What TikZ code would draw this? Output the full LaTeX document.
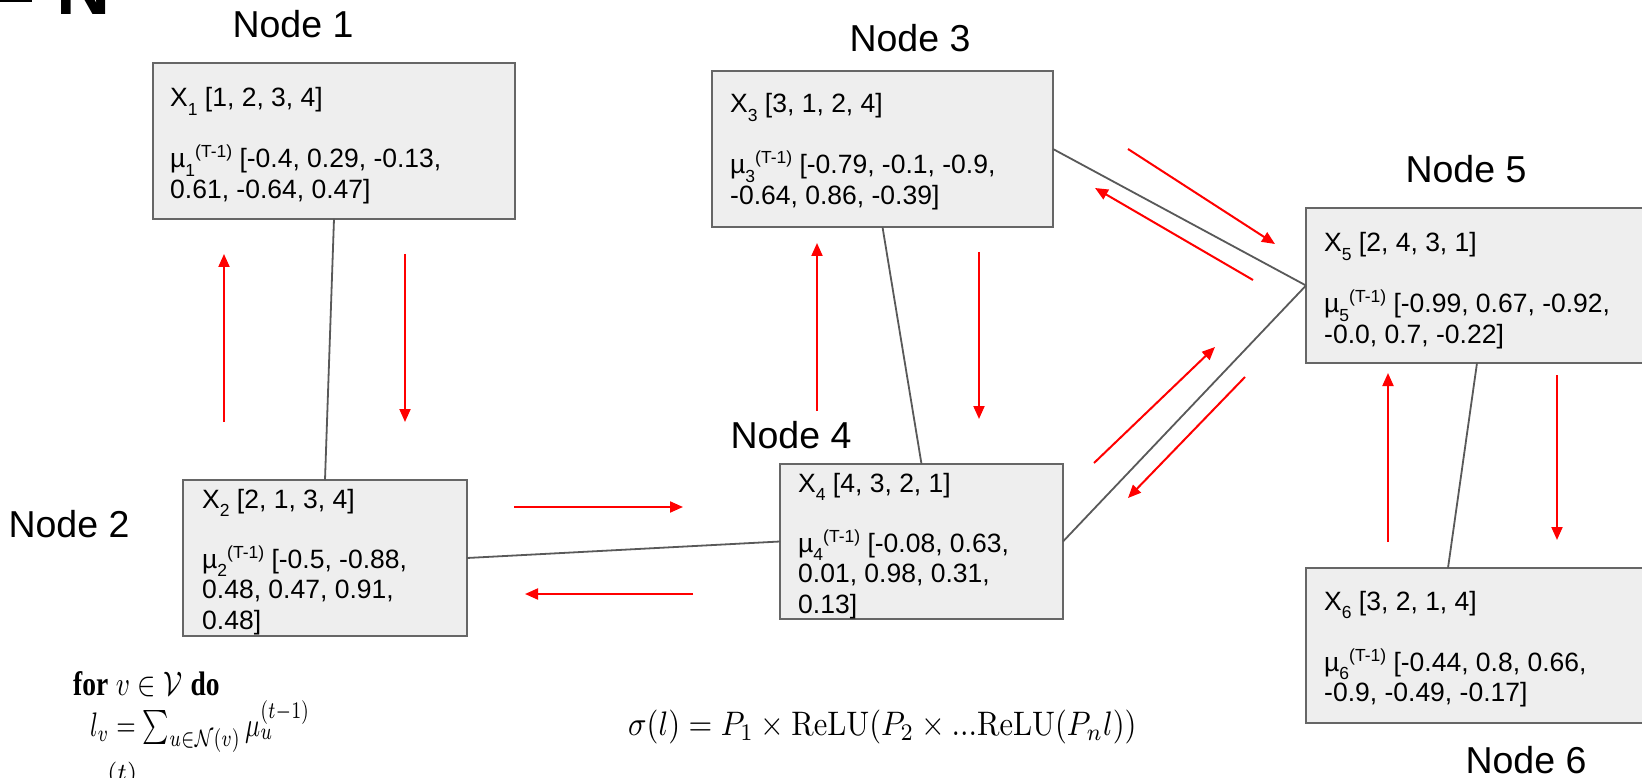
\documentclass[tikz,border=0pt]{standalone}
\usepackage{amsmath}
\usepackage[no-math]{fontspec}
\setmainfont{Liberation Sans}
\newfontfamily\formulafont{Liberation Serif}
\usetikzlibrary{arrows.meta}
\definecolor{boxfill}{HTML}{EEEEEE}
\definecolor{boxedge}{HTML}{666666}
\definecolor{edgegray}{HTML}{595959}
\definecolor{msgred}{HTML}{FF0000}
% small lowered / raised indices used in the feature texts
\newcommand\lo[1]{\smash{\raisebox{-8.5pt}{\fontsize{17.5}{17.5}\selectfont #1}}}
\newcommand\hi[1]{\smash{\raisebox{10pt}{\fontsize{17.5}{17.5}\selectfont #1}}}
\newcommand\vals[1]{\begin{tabular}[t]{@{}l@{}}#1\end{tabular}}
% formulas are set at 10pt and enlarged (width factor, height factor)
\newcommand\eqn[3]{\scalebox{#1}[#2]{\fontsize{10}{12}\selectfont #3}}

\begin{document}
\begin{tikzpicture}[x=1pt,y=-1pt,
  nbox/.style={draw=boxedge, fill=boxfill, line width=2.2pt, anchor=north west,
               inner sep=0pt, outer sep=0pt},
  link/.style={draw=edgegray, line width=1.8pt},
  msg/.style={draw=msgred, line width=2pt, -{Triangle[length=13pt,width=11pt]}},
  nodelabel/.style={font=\fontsize{37.5}{40}\selectfont, anchor=base, inner sep=0pt},
  valtext/.style={font=\fontsize{26.5}{30.5}\selectfont, anchor=base west, inner sep=0pt},
  formula/.style={anchor=base west, inner sep=0pt},
]
\useasboundingbox (0,0) rectangle (1642,778);
\fill[white] (0,0) rectangle (1642,778);

% heading remnant at the top-left corner
\fill[black] (0,0) rectangle (32,2.5);
\node[font=\fontsize{75}{75}\selectfont\bfseries, anchor=base west, inner sep=0pt] (title) at (56.5,15) {N};

% graph nodes
\node[nbox, minimum width=362, minimum height=156] (n1) at (153,63) {};
\node[nbox, minimum width=284, minimum height=156] (n2) at (183,480) {};
\node[nbox, minimum width=341, minimum height=156] (n3) at (712,71) {};
\node[nbox, minimum width=283, minimum height=155] (n4) at (780,464) {};
\node[nbox, minimum width=342, minimum height=155] (n5) at (1306,208) {};
\node[nbox, minimum width=360, minimum height=155] (n6) at (1306,568) {};

% node titles
\node[nodelabel] (l1) at (293,38) {Node 1};
\node[nodelabel] (l2) at (69,537) {Node 2};
\node[nodelabel] (l3) at (910,52) {Node 3};
\node[nodelabel] (l4) at (791,448) {Node 4};
\node[nodelabel] (l5) at (1466,183) {Node 5};
\node[nodelabel] (l6) at (1526,773) {Node 6};

% features and embeddings
\node[valtext] (t1) at (170,107) {\vals{X\lo{1} [1, 2, 3, 4]\\[30.5pt]
  µ\lo{1}\hi{(T-1)} [-0.4, 0.29, -0.13,\\0.61, -0.64, 0.47]}};
\node[valtext] (t2) at (202,508) {\vals{X\lo{2} [2, 1, 3, 4]\\[29.5pt]
  µ\lo{2}\hi{(T-1)} [-0.5, -0.88,\\0.48, 0.47, 0.91,\\0.48]}};
\node[valtext] (t3) at (730,113) {\vals{X\lo{3} [3, 1, 2, 4]\\[30.5pt]
  µ\lo{3}\hi{(T-1)} [-0.79, -0.1, -0.9,\\-0.64, 0.86, -0.39]}};
\node[valtext] (t4) at (798,492) {\vals{X\lo{4} [4, 3, 2, 1]\\[29.5pt]
  µ\lo{4}\hi{(T-1)} [-0.08, 0.63,\\0.01, 0.98, 0.31,\\0.13]}};
\node[valtext] (t5) at (1324,252) {\vals{X\lo{5} [2, 4, 3, 1]\\[30.5pt]
  µ\lo{5}\hi{(T-1)} [-0.99, 0.67, -0.92,\\-0.0, 0.7, -0.22]}};
\node[valtext] (t6) at (1324,610) {\vals{X\lo{6} [3, 2, 1, 4]\\[30.5pt]
  µ\lo{6}\hi{(T-1)} [-0.44, 0.8, 0.66,\\-0.9, -0.49, -0.17]}};

% graph edges
\draw[link] (n1.south) -- (n2.north);
\draw[link] (n2.east) -- (n4.west);
\draw[link] (n4.north) -- (n3.south);
\draw[link] (n3.east) -- (n5.west);
\draw[link] (n4.east) -- (n5.west);
\draw[link] (n5.south) -- ([xshift=142pt]n6.north west);

% messages passed along the edges
\coordinate (a12s) at (224,422); \coordinate (a12e) at (224,254);
\coordinate (a21s) at (405,254); \coordinate (a21e) at (405,422);
\coordinate (a24s) at (514,507); \coordinate (a24e) at (683,507);
\coordinate (a42s) at (693,594); \coordinate (a42e) at (525,594);
\coordinate (a43s) at (817,411); \coordinate (a43e) at (817,243);
\coordinate (a34s) at (979,252); \coordinate (a34e) at (979,419);
\coordinate (a35s) at (1128,149); \coordinate (a35e) at (1275,244);
\coordinate (a53s) at (1253,280); \coordinate (a53e) at (1095,188);
\coordinate (a45s) at (1094,463); \coordinate (a45e) at (1215,347);
\coordinate (a54s) at (1245,377); \coordinate (a54e) at (1128,498);
\coordinate (a65s) at (1388,542); \coordinate (a65e) at (1388,373);
\coordinate (a56s) at (1557,375); \coordinate (a56e) at (1557,540);
\foreach \p in {12,21,24,42,43,34,35,53,45,54,65,56}
  \draw[msg] (a\p s) -- (a\p e);

% update rule and aggregation function
\node[formula] (loop) at (73,695) {\eqn{2.75}{3.4}{{\formulafont\bfseries for} $v \in \mathcal{V}$ {\formulafont\bfseries do}}};
\node[formula] (agg) at (90,736) {\eqn{2.5}{3.4}{$l_v = \textstyle\sum_{u\in\mathcal{N}(v)} \mu_u^{(t-1)}$}};
\node[formula] (upd) at (88,799) {\eqn{3.2}{3.5}{$\mu_v^{(t)}$}};
\node[formula] (sigma) at (628,735) {\eqn{3.05}{3.4}{$\sigma(l) = P_1 \times \mathrm{ReLU}(P_2 \times ...\mathrm{ReLU}(P_n l))$}};
\end{tikzpicture}
\end{document}
